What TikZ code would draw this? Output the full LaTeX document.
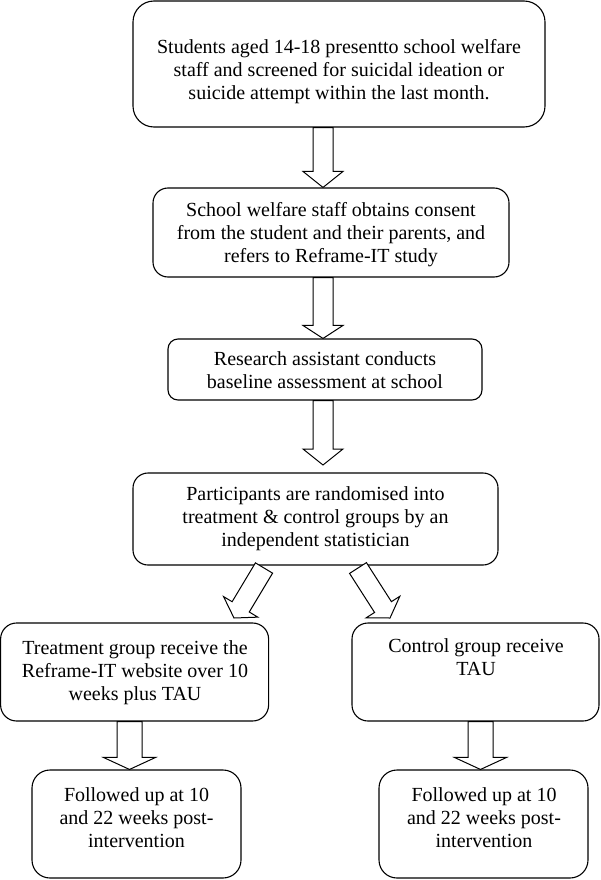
\documentclass[tikz,border=0pt]{standalone}
\usepackage{fontspec}
\setmainfont{Liberation Serif}
\usetikzlibrary{calc}
\tikzset{
  box/.style={draw, line width=1.1pt, inner sep=0pt},
  txt/.style={align=center, inner sep=0pt, font=\fontsize{20}{23}\selectfont},
  barrow/.style={draw, line width=1pt, fill=white, line join=miter}
}
\newcommand{\blkarrow}[5]{%
  \coordinate (tmpH) at ($(#2)!#5!(#1)$);
  \draw[barrow] ($(#1)!#3!90:(#2)$) -- ($(tmpH)!#3!90:(#2)$) -- ($(tmpH)!#4!90:(#2)$) -- (#2)
    -- ($(tmpH)!#4!-90:(#2)$) -- ($(tmpH)!#3!-90:(#2)$) -- ($(#1)!#3!-90:(#2)$) -- cycle;
}
\begin{document}
\begin{tikzpicture}[x=1pt,y=-1pt]
\useasboundingbox (0,0) rectangle (600,880);
% boxes
\node[box, minimum width=412pt, minimum height=126pt, rounded corners=21pt] (b1) at (339,64) {};
\node[box, minimum width=356pt, minimum height=89pt, rounded corners=15pt] (b2) at (331,232.5) {};
\node[box, minimum width=314pt, minimum height=61pt, rounded corners=10pt] (b3) at (325,369.5) {};
\node[box, minimum width=365pt, minimum height=92pt, rounded corners=15pt] (b4) at (315.5,519) {};
\node[box, minimum width=268pt, minimum height=98pt, rounded corners=16pt] (b5) at (134.6,672) {};
\node[box, minimum width=247pt, minimum height=98pt, rounded corners=16pt] (b6) at (475.5,672) {};
\node[box, minimum width=209pt, minimum height=108pt, rounded corners=18pt] (b7) at (136.5,824) {};
\node[box, minimum width=209pt, minimum height=108pt, rounded corners=18pt] (b8) at (483.5,824) {};
% texts (base anchor = baseline of last line)
\node[txt, anchor=base] (t1) at (339,100) {Students aged 14-18 presentto school welfare\\staff and screened for suicidal ideation or\\suicide attempt within the last month.};
\node[txt, anchor=base] (t2) at (331,262) {School welfare staff obtains consent\\from the student and their parents, and\\refers to Reframe-IT study};
\node[txt, anchor=base] (t3) at (325,388) {Research assistant conducts\\baseline assessment at school};
\node[txt, anchor=base] (t4) at (315.5,546) {Participants are randomised into\\treatment \& control groups by an\\independent statistician};
\node[txt, anchor=base] (t5) at (135,700) {Treatment group receive the\\Reframe-IT website over 10\\weeks plus TAU};
\node[txt, anchor=base] (t6) at (476,675) {Control group receive\\TAU};
\node[txt, anchor=base] (t7) at (136.5,847) {Followed up at 10\\and 22 weeks post-\\intervention};
\node[txt, anchor=base] (t8) at (484,847) {Followed up at 10\\and 22 weeks post-\\intervention};
% arrow end points
\coordinate (a1s) at (b1.south -| 323,0);
\coordinate (a1e) at (b2.north -| 323,0);
\coordinate (a2s) at (b2.south -| 323,0);
\coordinate (a2e) at (b3.north -| 323,0);
\coordinate (a3s) at (b3.south -| 323,0);
\coordinate (a3e) at (323,465);
\coordinate (a4s) at (264,568);
\coordinate (a4e) at (234,618);
\coordinate (a5s) at (358,568);
\coordinate (a5e) at (390,618);
\coordinate (a6s) at (b5.south -| 129.5,0);
\coordinate (a6e) at (b7.north -| 129.5,0);
\coordinate (a7s) at (b6.south -| 480.5,0);
\coordinate (a7e) at (b8.north -| 480.5,0);
% block arrows
\blkarrow{a1s}{a1e}{10pt}{20pt}{16pt}
\blkarrow{a2s}{a2e}{10pt}{20pt}{13pt}
\blkarrow{a3s}{a3e}{10pt}{20pt}{16pt}
\blkarrow{a4s}{a4e}{10pt}{20pt}{13pt}
\blkarrow{a5s}{a5e}{10pt}{20pt}{13pt}
\blkarrow{a6s}{a6e}{12.5pt}{26pt}{12pt}
\blkarrow{a7s}{a7e}{12.5pt}{26pt}{12pt}
\end{tikzpicture}
\end{document}
